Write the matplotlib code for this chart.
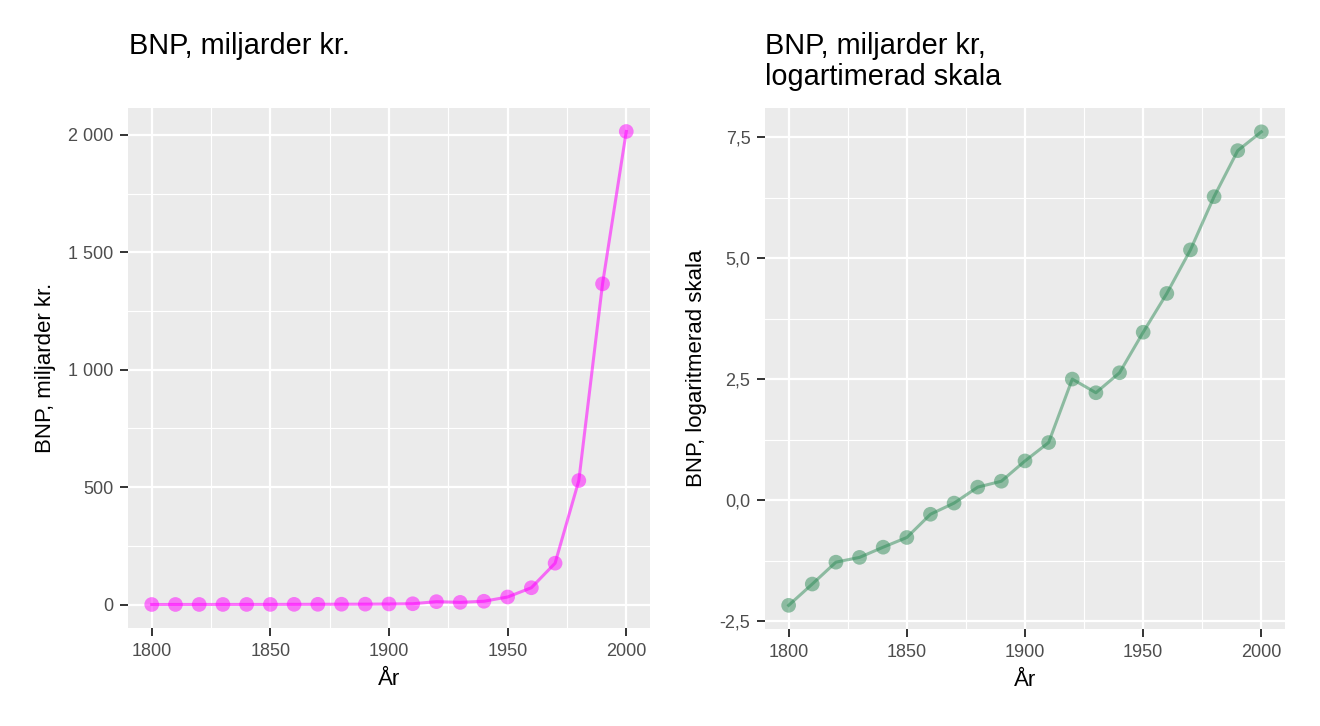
import numpy as np
import matplotlib
matplotlib.use("Agg")
import matplotlib.pyplot as plt
from matplotlib.ticker import FuncFormatter, MultipleLocator

plt.rcParams["font.family"] = ["Liberation Sans", "DejaVu Sans"]

# BNP, miljarder kr.
years = [1800, 1810, 1820, 1830, 1840, 1850, 1860, 1870, 1880, 1890, 1900,
         1910, 1920, 1930, 1940, 1950, 1960, 1970, 1980, 1990, 2000]
bnp = [0.114, 0.177, 0.278, 0.307, 0.379, 0.463, 0.748, 0.942, 1.31, 1.48, 2.25,
       3.29, 12.2, 9.2, 13.9, 32.1, 71.5, 176, 528, 1366, 2015]
log_bnp = np.log(bnp)

x_ticks = [1800, 1850, 1900, 1950, 2000]
left_yticks = [0, 500, 1000, 1500, 2000]
right_yticks = [-2.5, 0.0, 2.5, 5.0, 7.5]

BG = "#EBEBEB"
W, H = 1320, 726


def style_axis(ax):
    ax.set_facecolor(BG)
    for s in ax.spines.values():
        s.set_visible(False)
    ax.grid(which="major", color="white", linewidth=1.6)
    ax.grid(which="minor", color="white", linewidth=0.8)
    ax.set_axisbelow(True)
    ax.tick_params(which="major", length=5.5, width=1.4, color="#333333",
                   labelcolor="#4D4D4D", labelsize=13)
    ax.tick_params(axis="x", which="major", pad=5.5)
    ax.tick_params(axis="y", which="major", pad=5)
    ax.tick_params(which="minor", length=0)
    ax.set_xticks(x_ticks)
    ax.xaxis.set_minor_locator(MultipleLocator(25))
    ax.set_xlim(1790, 2010)
    ax.set_xlabel("År", fontsize=16, labelpad=6)


fig = plt.figure(figsize=(W / 100, H / 100), dpi=100)
ax1 = fig.add_axes([128 / W, 1 - 628 / H, 522 / W, 520 / H])
ax2 = fig.add_axes([765 / W, 1 - 629 / H, 520 / W, 521 / H])

# vänster panel: linjär skala
style_axis(ax1)
ax1.plot(years, bnp, color="#FF00FF", alpha=0.55, linewidth=2.2, zorder=2)
ax1.scatter(years, bnp, s=112, color="#FF00FF", alpha=0.5, edgecolors="none", zorder=3)
ax1.set_yticks(left_yticks)
ax1.yaxis.set_minor_locator(MultipleLocator(250))
ax1.set_ylim(-100, 2115)
ax1.yaxis.set_major_formatter(FuncFormatter(lambda v, p: f"{v:,.0f}".replace(",", " ")))
ax1.set_ylabel("BNP, miljarder kr.", fontsize=16, labelpad=9)

# höger panel: logaritmerad skala
style_axis(ax2)
ax2.plot(years, log_bnp, color="#2E8B57", alpha=0.5, linewidth=2.2, zorder=2)
ax2.scatter(years, log_bnp, s=112, color="#2E8B57", alpha=0.5, edgecolors="none", zorder=3)
ax2.set_yticks(right_yticks)
ax2.yaxis.set_minor_locator(MultipleLocator(1.25))
ax2.set_ylim(-2.66, 8.1)
ax2.yaxis.set_major_formatter(FuncFormatter(lambda v, p: f"{v:.1f}".replace(".", ",")))
ax2.set_ylabel("BNP, logaritmerad skala", fontsize=16, labelpad=9)

# titlar
fig.text(129 / W, 1 - 54 / H, "BNP, miljarder kr.", fontsize=20.8, va="baseline")
fig.text(765 / W, 1 - 54 / H, "BNP, miljarder kr,", fontsize=20.8, va="baseline")
fig.text(765 / W, 1 - 85 / H, "logartimerad skala", fontsize=20.8, va="baseline")

fig.savefig("out.png", dpi=100, facecolor="white")
